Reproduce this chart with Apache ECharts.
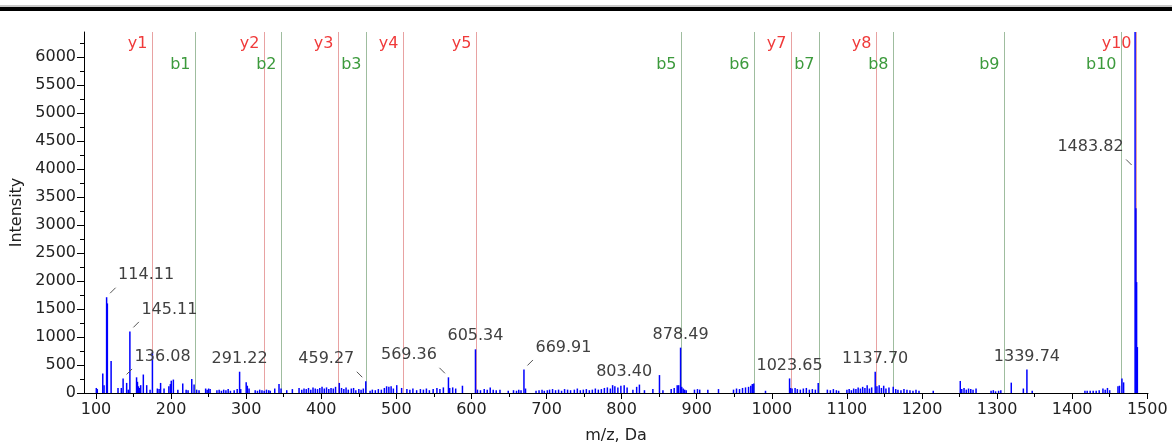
<!DOCTYPE html>
<html>
<head>
<meta charset="utf-8">
<title>MS/MS spectrum</title>
<script src="https://cdn.jsdelivr.net/npm/echarts@6/dist/echarts.min.js"></script>
<style>
  html, body { margin: 0; padding: 0; background: #fff; }
  #chart { width: 1172px; height: 445px; }
</style>
</head>
<body>
<div id="chart"></div>
<script>
// ---- spectrum peaks (m/z, intensity) ----
const peakMz = [
  100.4, 101.7, 109, 110.7, 114.11, 115.1, 120.1, 129.3, 133.7, 136.08, 140.8, 143, 145.11,
  154, 155.2, 156.5, 157.6, 159.5, 163, 167.5, 172, 175.12, 181.7, 184, 186, 190.6, 197, 199,
  200.2, 203, 209, 215.5, 220, 222.6, 227.5, 230.6, 234, 237.2, 246, 248, 250, 252, 261, 264,
  267, 270, 273, 276, 279, 284, 288, 291.22, 292.7, 300, 301.5, 303.8, 312, 315, 318, 321, 324,
  327, 330, 332, 338, 343.7, 346.4, 354, 361.5, 370.4,
  374, 377, 380, 383, 386, 389, 392, 395, 398, 401, 404, 407, 410, 413, 416, 419, 424, 427, 430,
  433, 436, 440, 443, 446, 450, 453, 456, 459.27, 465, 468, 472, 476, 480, 484, 487, 490, 493,
  496, 500.5, 507, 514, 518, 522, 527, 532, 536, 540, 544, 549, 554, 558, 562.6, 569.36, 571,
  575, 579, 588, 605.34, 608, 612, 617, 621, 625, 629, 633, 638, 649, 656, 660,
  663, 666, 669.91, 672, 686, 690, 694, 697, 701, 704, 708, 712, 716, 720, 724, 728, 732, 737,
  741, 745, 749, 753, 757, 761, 765, 769, 773, 777, 781, 785, 788, 791, 795, 799, 803.40, 807.3,
  815, 820, 823.7, 830.4, 841.6, 850.4, 855, 866, 870, 874, 876, 878.49, 880, 882, 884, 886, 897,
  901, 904, 914.8, 929,
  949, 953, 957, 961, 965, 969, 972, 974, 976, 991.6, 1023.65, 1025, 1027, 1031, 1034, 1038,
  1042, 1046, 1050, 1054, 1058, 1061.8, 1074, 1078, 1082, 1086, 1089, 1100, 1103, 1106, 1109,
  1112, 1115, 1118, 1121, 1124, 1127, 1130, 1133, 1137.70, 1140, 1143, 1146, 1149, 1152, 1156,
  1161.7, 1165, 1168, 1172, 1176, 1180, 1184, 1188, 1192, 1196, 1215,
  1251, 1253, 1256, 1259, 1262, 1265, 1268, 1272, 1292, 1295, 1298, 1302, 1305, 1318.9, 1335,
  1339.74, 1346.8, 1417, 1420, 1424, 1428, 1432, 1436, 1441, 1444, 1447, 1450, 1461, 1463,
  1466.3, 1468.5, 1483.82, 1484.82, 1485.82, 1486.82
];
const peakInt = [
  90, 70, 350, 140, 1710, 1600, 570, 90, 90, 260, 180, 60, 1100,
  280, 200, 120, 90, 140, 330, 140, 60, 730, 80, 70, 180, 80, 120, 160,
  220, 240, 60, 170, 60, 50, 250, 150, 60, 50, 80, 60, 80, 70, 50, 60,
  40, 60, 50, 70, 40, 50, 70, 380, 70, 190, 130, 80, 50, 40, 60, 50, 40,
  60, 50, 40, 80, 160, 80, 50, 70, 90,
  60, 80, 70, 90, 60, 100, 80, 70, 90, 110, 80, 100, 70, 90, 80, 110, 180, 90, 70,
  100, 60, 80, 90, 50, 70, 60, 80, 210, 40, 60, 50, 70, 60, 90, 120, 110, 120,
  80, 140, 90, 70, 60, 80, 50, 70, 60, 80, 50, 70, 90, 70, 100, 280, 90,
  100, 80, 130, 780, 60, 50, 70, 60, 100, 60, 50, 60, 40, 50, 40,
  60, 50, 420, 80, 40, 50, 60, 40, 50, 60, 70, 50, 60, 40, 70, 60, 50, 60,
  80, 50, 60, 70, 50, 60, 80, 60, 70, 90, 100, 80, 140, 120, 100, 130, 140, 100,
  60, 110, 150, 50, 70, 320, 50, 70, 90, 140, 140, 810, 110, 80, 60, 50, 60,
  70, 60, 60, 70,
  60, 80, 70, 90, 100, 110, 130, 160, 170, 40, 260, 90, 80, 90, 70, 60,
  80, 90, 60, 70, 60, 180, 60, 50, 70, 50, 40, 60, 70, 50, 80,
  70, 100, 80, 110, 90, 140, 80, 100, 380, 120, 140, 90, 130, 80, 100,
  110, 70, 60, 50, 70, 60, 50, 40, 60, 40, 40,
  215, 70, 90, 60, 80, 70, 60, 80, 40, 50, 30, 40, 50, 185, 80,
  420, 40, 40, 40, 40, 40, 40, 50, 80, 60, 90, 50, 120, 130,
  260, 190, 6446, 3300, 1980, 820
];

// ---- fragment ion markers ----
const yIonNames = ["y1", "y2", "y3", "y4", "y5", "y7", "y8", "y10"];
const yIonMz = [175.1, 323.4, 422.8, 508.5, 605.7, 1024.9, 1138.2, 1484.4];
const bIonNames = ["b1", "b2", "b3", "b5", "b6", "b7", "b8", "b9", "b10"];
const bIonMz = [231.4, 346.4, 460.1, 879.3, 976.1, 1062.6, 1161.7, 1308.7, 1465.4];

// ---- peak annotations (1483.82 is off scale, its label sits lower on the peak) ----
const labelMz = [114.11, 145.11, 136.08, 291.22, 459.27, 569.36, 605.34, 669.91, 803.40,
                 878.49, 1023.65, 1137.70, 1339.74, 1483.82];
const labelInt = [1710, 1100, 260, 380, 210, 280, 780, 420, 140, 810, 260, 380, 420, 4000];
const labelSide = ["right", "right", "right", "up", "left", "left", "up", "right", "up",
                   "up", "up", "up", "up", "left"];

// ---- axes ----
const xMin = 84, xMax = 1501, yMin = 0, yMax = 6446;
const xMajor = [100, 200, 300, 400, 500, 600, 700, 800, 900, 1000, 1100, 1200, 1300, 1400, 1500];
const xMinor = [150, 250, 350, 450, 550, 650, 750, 850, 950, 1050, 1150, 1250, 1350, 1450];
const yMajor = [0, 500, 1000, 1500, 2000, 2500, 3000, 3500, 4000, 4500, 5000, 5500, 6000];
const yMinor = [250, 750, 1250, 1750, 2250, 2750, 3250, 3750, 4250, 4750, 5250, 5750, 6250];

const FONT = '"DejaVu Sans", sans-serif';

(function () {
    const chart = echarts.init(document.getElementById("chart"));

    function ionSeries(names, mz, textColor, lineColor, rowY) {
        return {
            type: "custom",
            silent: true,
            z: 1,
            data: mz.map(m => [m, 0]),
            encode: { x: 0, y: 1 },
            renderItem: (params, api) => {
                const bottom = api.coord([api.value(0), yMin]);
                const top = api.coord([api.value(0), yMax]);
                const x = Math.round(bottom[0]) + 0.5;
                return {
                    type: "group",
                    children: [
                        {
                            type: "line",
                            shape: { x1: x, y1: top[1], x2: x, y2: bottom[1] },
                            style: { stroke: lineColor, lineWidth: 1 }
                        },
                        {
                            type: "text",
                            x: x - 5,
                            y: top[1] + rowY,
                            style: {
                                text: names[params.dataIndex],
                                fill: textColor,
                                font: "16px " + FONT,
                                align: "right",
                                verticalAlign: "middle"
                            }
                        }
                    ]
                };
            }
        };
    }

    const labelSeries = {
        type: "custom",
        silent: true,
        z: 3,
        data: labelMz.map((m, i) => [m, labelInt[i]]),
        encode: { x: 0, y: 1 },
        renderItem: (params, api) => {
            const p = api.coord([api.value(0), api.value(1)]);
            const side = labelSide[params.dataIndex];
            const txt = labelMz[params.dataIndex].toFixed(2);
            const textStyle = { text: txt, fill: "#404040", font: "16px " + FONT, verticalAlign: "middle" };
            if (side === "up") {
                return {
                    type: "text", x: p[0], y: p[1] - 13,
                    style: Object.assign(textStyle, { align: "center" })
                };
            }
            const dir = side === "right" ? 1 : -1;
            return {
                type: "group",
                children: [
                    {
                        type: "line",
                        shape: { x1: p[0] + dir * 3.5, y1: p[1] - 4, x2: p[0] + dir * 9, y2: p[1] - 9.5 },
                        style: { stroke: "#555", lineWidth: 1 }
                    },
                    {
                        type: "text",
                        x: p[0] + dir * 11.5,
                        y: p[1] - 22,
                        style: Object.assign(textStyle, { align: side === "right" ? "left" : "right" })
                    }
                ]
            };
        }
    };

    const tickLabel = { fontSize: 16, color: "#222", fontFamily: FONT, formatter: v => String(v) };

    chart.setOption({
        animation: false,
        backgroundColor: "#fff",
        textStyle: { fontFamily: FONT },
        graphic: [
            { type: "rect", left: 0, top: 5, shape: { width: 1172, height: 2 }, style: { fill: "#c8c8c8" } },
            { type: "rect", left: 0, top: 7, shape: { width: 1172, height: 4 }, style: { fill: "#000" } }
        ],
        grid: { left: 84, right: 24, top: 32, bottom: 52, outerBoundsMode: "none" },
        xAxis: [
            {
                type: "value",
                min: xMin,
                max: xMax,
                name: "m/z, Da",
                nameLocation: "middle",
                nameGap: 35,
                nameTextStyle: { fontSize: 16, color: "#222", fontFamily: FONT },
                axisLine: { onZero: false, lineStyle: { color: "#000", width: 1 } },
                axisTick: { customValues: xMajor, length: 6, lineStyle: { color: "#000" } },
                axisLabel: Object.assign({ customValues: xMajor, margin: 9 }, tickLabel),
                splitLine: { show: false }
            },
            {
                type: "value",
                min: xMin,
                max: xMax,
                position: "bottom",
                axisLine: { show: false, onZero: false },
                axisTick: { customValues: xMinor, length: 4, lineStyle: { color: "#000" } },
                axisLabel: { show: false },
                splitLine: { show: false }
            }
        ],
        yAxis: [
            {
                type: "value",
                min: yMin,
                max: yMax,
                name: "Intensity",
                nameLocation: "middle",
                nameGap: 45,
                nameTextStyle: { fontSize: 16, color: "#222", fontFamily: FONT },
                axisLine: { show: true, onZero: false, lineStyle: { color: "#000", width: 1 } },
                axisTick: { show: true, customValues: yMajor, length: 7, lineStyle: { color: "#000" } },
                axisLabel: Object.assign({ customValues: yMajor, margin: 8 }, tickLabel),
                splitLine: { show: false }
            },
            {
                type: "value",
                min: yMin,
                max: yMax,
                position: "left",
                axisLine: { show: false, onZero: false },
                axisTick: { show: true, customValues: yMinor, length: 4, lineStyle: { color: "#000" } },
                axisLabel: { show: false },
                splitLine: { show: false }
            }
        ],
        series: [
            ionSeries(yIonNames, yIonMz, "#f03a3a", "#e8a2a2", 12),
            ionSeries(bIonNames, bIonMz, "#3c9a3c", "#9fbd9f", 33),
            {
                type: "bar",
                z: 2,
                barWidth: 1.5,
                silent: true,
                itemStyle: { color: "#0000ff" },
                data: peakMz.map((m, i) => [m, peakInt[i]])
            },
            labelSeries
        ]
    });

    window.addEventListener("resize", () => chart.resize());
})();
</script>
</body>
</html>
